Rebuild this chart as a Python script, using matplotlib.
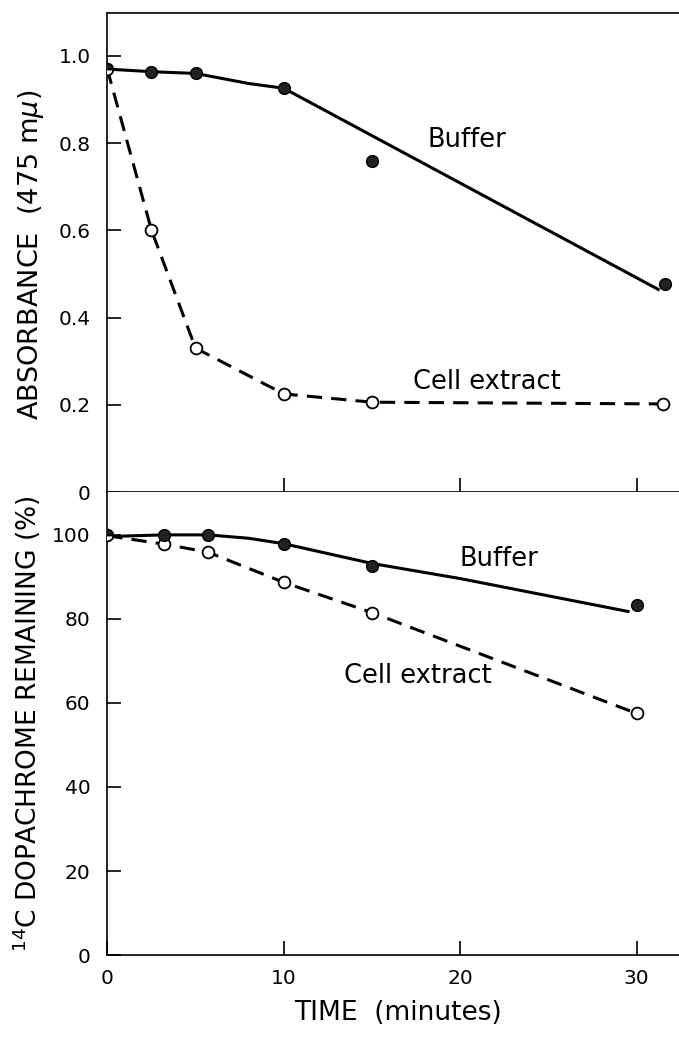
import matplotlib
matplotlib.use("Agg")
import matplotlib.pyplot as plt

# ---- data ----
# top panel: absorbance at 475 mu
abs_buffer_t = [0, 2.5, 5, 10, 15, 31.6]
abs_buffer_y = [0.97, 0.964, 0.960, 0.926, 0.759, 0.477]
# hand-drawn trend line for buffer (does not pass through every point)
abs_buffer_line_t = [0, 2.5, 5, 8, 10, 31.3]
abs_buffer_line_y = [0.97, 0.964, 0.960, 0.937, 0.926, 0.463]

abs_extract_t = [0, 2.5, 5, 10, 15, 31.5]
abs_extract_y = [0.97, 0.601, 0.330, 0.225, 0.206, 0.202]

# bottom panel: 14C dopachrome remaining (%)
pct_buffer_t = [0, 3.2, 5.7, 10, 15, 30]
pct_buffer_y = [100, 100, 100, 97.9, 92.7, 83.2]
pct_buffer_line_t = [0, 3.2, 5.7, 8, 10, 15, 20, 29.6]
pct_buffer_line_y = [99.6, 100, 100, 99.2, 97.9, 93.2, 89.6, 81.7]

pct_extract_t = [0, 3.2, 5.7, 10, 15, 30]
pct_extract_y = [99.8, 97.8, 95.9, 88.7, 81.5, 57.5]

abs_ticks = [0, 0.2, 0.4, 0.6, 0.8, 1.0]
abs_ticklabels = ["0", "0.2", "0.4", "0.6", "0.8", "1.0"]
pct_ticks = [0, 20, 40, 60, 80, 100]
time_ticks = [0, 10, 20, 30]

plt.rcParams['font.family'] = ['DejaVu Sans']
plt.rcParams['mathtext.fontset'] = 'dejavusans'

fig = plt.figure(figsize=(6.79, 10.40), dpi=100)
ax_top = fig.add_axes([0.158, 0.5269, 0.842, 0.4606])
ax_bot = fig.add_axes([0.158, 0.0817, 0.842, 0.4452])

LW = 2.2
MS = 8.5
DASH = (0, (5, 3))
TXT = 18.5


def style_axes(ax):
    ax.spines['right'].set_visible(False)
    for s in ax.spines.values():
        s.set_linewidth(1.2)
    ax.tick_params(axis='both', direction='in', length=10, width=1.2,
                   labelsize=14.5, pad=12)
    ax.tick_params(axis='x', pad=10)
    ax.set_xlim(0, 32.4)


# ---- top panel ----
style_axes(ax_top)
ax_top.plot(abs_buffer_line_t, abs_buffer_line_y, color='black', lw=LW,
            solid_capstyle='butt', zorder=2)
ax_top.plot(abs_extract_t, abs_extract_y, color='black', lw=LW,
            linestyle=DASH, zorder=2)
ax_top.plot(abs_extract_t[1:], abs_extract_y[1:], 'o', ms=MS, mfc='white',
            mec='black', mew=1.3, zorder=3)
ax_top.plot(abs_buffer_t[1:], abs_buffer_y[1:], 'o', ms=MS, mfc='#222222',
            mec='black', mew=1.0, zorder=3)
ax_top.plot(abs_buffer_t[0], abs_buffer_y[0], 'o', ms=MS, fillstyle='top',
            mfc='#222222', markerfacecoloralt='white', mec='black', mew=1.3,
            zorder=4)
ax_top.set_ylim(0, 1.0986)
ax_top.set_yticks(abs_ticks)
ax_top.set_yticklabels(abs_ticklabels)
ax_top.set_xticks(time_ticks[1:])
ax_top.tick_params(axis='x', labelbottom=False)
ax_top.set_ylabel(r"ABSORBANCE  (475 m$\mu$)", fontsize=19.5)
ax_top.yaxis.set_label_coords(-0.108, 0.495)
ax_top.text(20.4, 0.807, "Buffer", fontsize=TXT, ha='center', va='center')
ax_top.text(21.5, 0.253, "Cell extract", fontsize=TXT, ha='center', va='center')

# ---- bottom panel ----
style_axes(ax_bot)
ax_bot.spines['top'].set_visible(False)
ax_bot.plot(pct_buffer_line_t, pct_buffer_line_y, color='black', lw=LW,
            solid_capstyle='butt', zorder=2)
ax_bot.plot(pct_extract_t, pct_extract_y, color='black', lw=LW,
            linestyle=DASH, zorder=2)
ax_bot.plot(pct_extract_t[1:], pct_extract_y[1:], 'o', ms=MS, mfc='white',
            mec='black', mew=1.3, zorder=3)
ax_bot.plot(pct_buffer_t[1:], pct_buffer_y[1:], 'o', ms=MS, mfc='#222222',
            mec='black', mew=1.0, zorder=3)
ax_bot.plot(pct_buffer_t[0], pct_buffer_y[0], 'o', ms=MS, fillstyle='top',
            mfc='#222222', markerfacecoloralt='white', mec='black', mew=1.3,
            zorder=4)
ax_bot.set_ylim(0, 110.2)
ax_bot.set_yticks(pct_ticks)
ax_bot.set_xticks(time_ticks)
ax_bot.set_ylabel(r"$^{14}$C DOPACHROME REMAINING (%)", fontsize=19)
ax_bot.yaxis.set_label_coords(-0.112, 0.5)
ax_bot.set_xlabel("TIME  (minutes)", fontsize=19)
ax_bot.xaxis.set_label_coords(0.508, -0.097)
ax_bot.text(22.2, 94.3, "Buffer", fontsize=TXT, ha='center', va='center')
ax_bot.text(17.6, 66.5, "Cell extract", fontsize=TXT, ha='center', va='center')

fig.savefig("out.png", dpi=100)
